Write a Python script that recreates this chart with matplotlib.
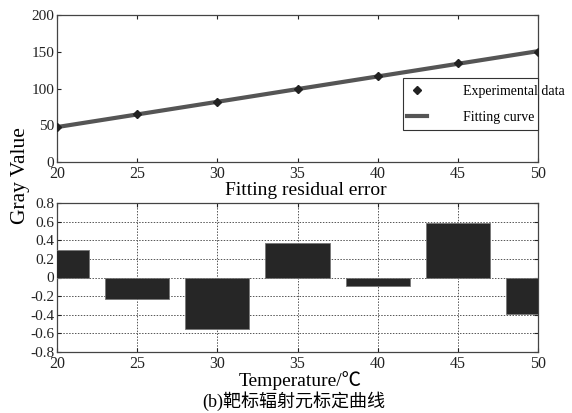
import matplotlib
matplotlib.use("Agg")
import matplotlib.pyplot as plt
from matplotlib.patches import Rectangle
import numpy as np

temps = [20, 25, 30, 35, 40, 45, 50]
gray_values = [47, 65, 82, 100, 117, 135, 150]
fit_values = [47.5, 64.7, 81.9, 99.2, 116.4, 133.6, 150.8]
residuals = [0.30, -0.23, -0.55, 0.37, -0.09, 0.58, -0.39]
x_ticks = [20, 25, 30, 35, 40, 45, 50]
y_ticks_top = [0, 50, 100, 150, 200]
y_ticks_bot = [-0.8, -0.6, -0.4, -0.2, 0, 0.2, 0.4, 0.6, 0.8]
y_ticklabels_bot = ["-0.8", "-0.6", "-0.4", "-0.2", "0", "0.2", "0.4", "0.6", "0.8"]

plt.rcParams['font.family'] = ['Liberation Serif', 'Noto Sans CJK SC', 'DejaVu Sans']

fig = plt.figure(figsize=(5.72, 4.13), dpi=100)
W, H = 572, 413
def rect(l, t, r, b):
    return [l / W, 1 - b / H, (r - l) / W, (b - t) / H]

ax1 = fig.add_axes(rect(57, 15, 538, 162))
ax2 = fig.add_axes(rect(57, 203, 538, 352))

# top panel
ax1.plot(temps, fit_values, color='#555555', lw=3, label='Fitting curve', zorder=2)
ax1.plot(temps, gray_values, linestyle='none', marker='D', ms=4, color='#222222',
         label='Experimental data', zorder=3)
ax1.set_xlim(20, 50)
ax1.set_ylim(0, 200)
ax1.set_xticks(x_ticks)
ax1.set_yticks(y_ticks_top)

# legend frame (box ends at the axes edge, text overflows like the reference)
fig.patches.append(Rectangle((403 / W, 1 - 130 / H), (538 - 403) / W, 52 / H,
                             transform=fig.transFigure, facecolor='white',
                             edgecolor='#333333', linewidth=0.8, zorder=5))
handles, labels = ax1.get_legend_handles_labels()
leg = fig.legend(handles[::-1], labels[::-1], loc='upper left',
                 bbox_to_anchor=(407 / W, 1 - 85 / H), bbox_transform=fig.transFigure,
                 fontsize=10, frameon=False,
                 handlelength=1.45, handletextpad=2.55, borderpad=0, labelspacing=0.95,
                 borderaxespad=0)
leg.set_zorder(6)

# bottom panel
ax2.bar(temps, residuals, width=4, color='#262626', edgecolor='#777777', linewidth=0.6, zorder=3)
ax2.set_xlim(20, 50)
ax2.set_ylim(-0.8, 0.8)
ax2.set_xticks(x_ticks)
ax2.set_yticks(y_ticks_bot)
ax2.set_yticklabels(y_ticklabels_bot)
ax2.grid(True, linestyle=(0, (1.5, 1.5)), color='#555555', linewidth=0.7, zorder=0)
ax2.set_axisbelow(True)

for ax in (ax1, ax2):
    ax.tick_params(direction='in', top=True, right=True, labelsize=11, length=3, pad=2,
                   colors='#222222')
    ax.tick_params(axis='x', pad=3, labelsize=11.5)
    for s in ax.spines.values():
        s.set_color('#444444')
        s.set_linewidth(0.9)

fig.text(306 / W, 1 - 191 / H, 'Fitting residual error', ha='center', va='center', fontsize=14)
fig.text(300 / W, 1 - 381 / H, 'Temperature/℃', ha='center', va='center', fontsize=14,
         family=['Liberation Serif', 'Noto Sans CJK SC'])
fig.text(21 / W, 1 - 176 / H, 'Gray Value', ha='center', va='center', rotation=90, fontsize=15.5)
fig.text(294 / W, 1 - 401 / H, '(b)靶标辐射元标定曲线', ha='center', va='center', fontsize=13,
         family=['Liberation Serif', 'Noto Sans CJK SC'])

fig.savefig('out.png', dpi=100)
